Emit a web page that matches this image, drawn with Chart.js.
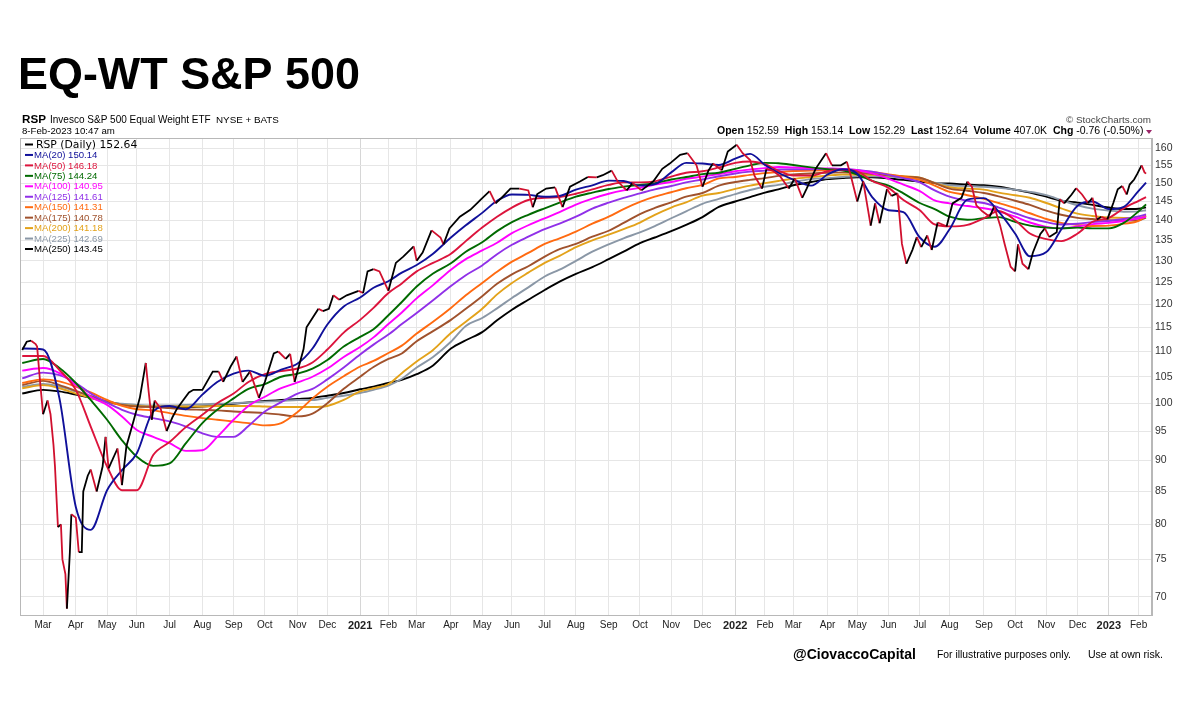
<!DOCTYPE html>
<html>
<head>
<meta charset="utf-8">
<title>EQ-WT S&amp;P 500</title>
<script src="https://cdn.jsdelivr.net/npm/chart.js@4.4.1/dist/chart.umd.min.js"></script>
<style>
  body { margin: 0; background: #fff; }
  canvas { display: block; }
</style>
</head>
<body>
<canvas id="myChart" width="1200" height="720"></canvas>
<script>
// x positions are trading-day counts from the first bar (10-Feb-2020)
const monthTicks = [14, 36, 57, 77, 99, 121, 142, 163, 185, 205,
  227, 246, 265, 288, 309, 329, 351, 372, 394, 415, 436, 457,
  479, 499, 518, 541, 561, 582, 603, 623, 646, 667, 688, 709,
  730, 750];
const monthLabels = ["Mar", "Apr", "May", "Jun", "Jul", "Aug", "Sep", "Oct", "Nov", "Dec",
  "2021", "Feb", "Mar", "Apr", "May", "Jun", "Jul", "Aug", "Sep", "Oct", "Nov", "Dec",
  "2022", "Feb", "Mar", "Apr", "May", "Jun", "Jul", "Aug", "Sep", "Oct", "Nov", "Dec",
  "2023", "Feb"];
const priceTicks = [70, 75, 80, 85, 90, 95, 100, 105, 110, 115, 120, 125, 130, 135, 140, 145, 150, 155, 160];

// RSP closes (sampled)
const priceDays = [
  0, 3, 6, 9, 10, 12, 14, 17, 19, 21,
  22, 24, 26, 27, 29, 30, 32, 33, 36, 38,
  40, 41, 44, 46, 50, 54, 56, 58, 64, 67,
  70, 75, 79, 83, 85, 87, 89, 93, 97, 101,
  104, 108, 112, 115, 121, 128, 132, 135, 140, 144,
  148, 153, 159, 163, 169, 172, 177, 180, 183, 189,
  191, 195, 199, 202, 206, 209, 213, 218, 226, 229,
  232, 236, 240, 246, 251, 256, 263, 265, 269, 275,
  281, 283, 287, 294, 301, 306, 308, 314, 318, 322,
  328, 334, 340, 343, 346, 352, 358, 363, 368, 375,
  380, 386, 390, 396, 400, 406, 410, 416, 424, 430,
  435, 442, 447, 453, 457, 461, 464, 470, 474, 480,
  484, 489, 492, 497, 500, 504, 509, 515, 519, 524,
  527, 533, 540, 544, 550, 554, 557, 561, 565, 570,
  573, 576, 581, 584, 588, 591, 594, 598, 601, 604,
  608, 611, 615, 621, 625, 631, 635, 638, 641, 645,
  650, 653, 657, 660, 664, 667, 669, 672, 676, 679,
  684, 687, 690, 695, 697, 700, 705, 708, 712, 716,
  719, 722, 725, 729, 733, 736, 739, 742, 744, 747,
  749, 752, 754, 755];
const priceVals = [
  110.3, 112.0, 112.2, 111.5, 111.0, 104.0, 98.0, 100.5, 98.0, 92.6,
  89.0, 79.6, 80.0, 75.0, 73.0, 68.5, 76.0, 81.5, 81.0, 76.0,
  76.0, 85.0, 87.5, 88.5, 85.0, 89.0, 94.0, 88.7, 92.0, 86.0,
  92.4, 97.0, 101.0, 107.7, 102.0, 97.0, 100.5, 99.0, 95.0, 97.5,
  99.0, 100.5, 102.0, 102.5, 102.5, 106.0, 106.0, 104.0, 107.0, 109.0,
  104.0, 106.0, 101.0, 104.0, 109.6, 110.0, 108.5, 109.5, 104.0, 110.5,
  115.0, 117.0, 119.0, 118.5, 119.0, 122.0, 121.0, 122.0, 123.0, 122.5,
  127.5, 128.0, 127.5, 123.0, 129.5, 131.0, 133.5, 130.0, 132.0, 137.5,
  135.7, 134.0, 138.0, 141.0, 142.8, 144.7, 145.5, 147.8, 144.5, 146.0,
  148.5, 148.5, 148.0, 143.5, 147.0, 148.5, 148.8, 143.5, 149.0, 150.5,
  151.7, 151.6, 152.2, 153.5, 150.5, 148.0, 150.0, 148.0, 150.5, 154.0,
  155.5, 158.0, 158.5, 155.0, 149.0, 153.5, 155.5, 153.6, 159.0, 161.0,
  158.5, 156.5, 152.0, 148.5, 154.0, 153.5, 152.0, 148.5, 151.3, 146.0,
  148.5, 154.0, 158.5, 155.0, 155.0, 156.0, 151.5, 145.0, 150.5, 138.7,
  144.5, 139.3, 148.4, 146.5, 147.2, 134.1, 129.3, 132.6, 135.8, 133.3,
  136.2, 132.6, 139.5, 138.5, 144.5, 146.0, 150.4, 149.0, 144.0, 142.4,
  141.0, 143.7, 138.7, 134.1, 128.6, 127.5, 134.0, 129.3, 128.0, 132.0,
  136.6, 138.0, 135.8, 137.0, 145.6, 144.5, 146.9, 148.6, 146.9, 144.6,
  146.0, 140.3, 141.0, 140.3, 144.6, 148.3, 149.2, 146.9, 149.6, 151.0,
  152.5, 155.0, 153.0, 152.64];

// moving averages, all read at the same days
const maDays = [
  0, 14, 25, 36, 46, 57, 67, 77, 88, 99,
  110, 121, 131, 142, 152, 163, 174, 185, 195, 205,
  216, 227, 236, 246, 255, 265, 276, 288, 298, 309,
  319, 329, 340, 351, 361, 372, 383, 394, 404, 415,
  425, 436, 446, 457, 468, 479, 489, 499, 508, 518,
  530, 541, 551, 561, 571, 582, 592, 603, 613, 623,
  635, 646, 656, 667, 677, 688, 698, 709, 719, 730,
  740, 750, 755];
const ma20 = [
  110.6, 110.4, 100.9, 82.6, 79.2, 85.2, 88.4, 91.2, 98.5, 99.5, 98.9, 101.6, 104.0, 105.6, 106.2,
  105.2, 106.4, 107.6, 110.6, 115.6, 119.5, 121.5, 123.7, 125.2, 127.2, 129.0, 131.7, 135.7, 138.8,
  142.0, 145.2, 146.9, 146.8, 146.3, 146.5, 148.2, 149.4, 150.7, 150.6, 149.3, 149.7, 153.0, 155.7, 155.5,
  155.1, 156.9, 158.3, 155.1, 152.9, 151.0, 149.3, 152.4, 153.9, 152.6, 146.2, 142.7, 142.2, 135.7,
  133.4, 137.8, 145.5, 145.9, 142.3, 136.7, 131.1, 132.1, 137.7, 143.9, 145.0, 143.0, 143.6, 147.9, 150.14];
const ma50 = [
  109.1, 109.1, 106.3, 102.5, 95.8, 89.0, 85.2, 85.2, 90.9, 93.1, 95.7, 97.9, 100.0, 101.8, 104.0,
  105.5, 106.1, 106.6, 107.8, 110.4, 113.9, 116.6, 119.2, 122.5, 124.7, 127.5, 129.5, 131.7, 134.8,
  138.2, 141.0, 143.4, 145.4, 146.0, 146.2, 147.1, 148.3, 149.5, 150.2, 150.2, 150.5, 151.8, 152.9, 153.3,
  154.4, 155.7, 156.1, 155.3, 153.5, 152.1, 152.1, 153.3, 153.7, 153.3, 150.6, 148.7, 145.4, 142.7,
  139.0, 138.5, 138.9, 140.6, 142.5, 140.1, 136.7, 135.3, 134.8, 136.7, 139.7, 140.7, 143.2, 145.2, 146.18];
const ma75 = [
  107.7, 108.5, 106.7, 103.8, 100.6, 97.0, 93.4, 90.6, 89.1, 89.5, 92.9, 96.4, 98.8, 100.9, 102.7,
  103.6, 105.0, 105.6, 106.6, 108.3, 111.0, 113.0, 114.6, 117.6, 120.5, 124.0, 127.0, 129.4, 132.2,
  134.5, 137.3, 139.6, 141.5, 143.2, 144.7, 146.3, 147.4, 148.4, 149.0, 149.5, 150.0, 151.0, 151.7, 152.5,
  152.9, 154.0, 155.0, 155.7, 155.6, 155.1, 154.4, 153.9, 153.6, 152.4, 150.6, 149.3, 147.2, 144.6,
  143.0, 141.0, 140.2, 140.6, 140.9, 139.7, 138.7, 138.2, 138.0, 138.2, 138.0, 138.0, 139.4, 142.4, 144.24];
const ma100 = [
  106.2, 106.7, 105.7, 103.4, 101.2, 99.7, 97.6, 95.2, 94.0, 92.9, 91.6, 91.7, 94.0, 97.0, 99.5,
  101.2, 102.8, 103.9, 105.0, 106.6, 108.9, 110.9, 112.9, 115.7, 118.2, 121.3, 124.3, 127.9, 130.4,
  132.5, 134.4, 136.8, 138.8, 140.6, 142.2, 144.2, 145.8, 147.1, 148.0, 148.7, 149.6, 150.3, 151.2, 151.8,
  152.5, 153.3, 153.8, 154.2, 154.5, 154.4, 154.2, 154.1, 154.0, 153.6, 152.7, 151.2, 149.6, 147.8,
  145.3, 144.5, 143.8, 143.2, 142.4, 141.0, 139.5, 138.4, 138.0, 138.5, 139.1, 139.4, 139.9, 140.6, 140.95];
const ma125 = [
  104.7, 105.8, 105.3, 103.8, 101.8, 100.1, 98.8, 97.9, 97.3, 96.7, 95.8, 94.6, 94.0, 94.0, 95.9,
  98.5, 100.2, 101.8, 102.7, 104.5, 106.8, 109.4, 111.4, 113.5, 115.7, 118.1, 120.9, 124.1, 126.6,
  128.9, 131.6, 133.9, 135.9, 137.8, 139.2, 141.0, 143.1, 144.7, 146.0, 147.2, 148.3, 149.2, 150.2, 151.0,
  151.9, 152.7, 153.2, 153.5, 153.8, 153.9, 153.9, 154.0, 154.0, 153.7, 153.2, 152.3, 151.4, 150.2,
  148.0, 146.3, 145.2, 144.6, 143.4, 141.9, 140.6, 139.6, 139.0, 139.2, 139.6, 139.9, 140.4, 141.1, 141.61];
const ma150 = [
  103.8, 104.5, 104.1, 103.1, 102.0, 100.6, 99.5, 98.9, 98.7, 98.2, 97.7, 97.3, 97.0, 96.7, 96.4,
  96.0, 96.4, 98.4, 100.9, 103.1, 105.1, 107.0, 108.1, 109.7, 111.2, 113.7, 116.2, 119.2, 122.0,
  124.8, 127.4, 129.8, 131.9, 134.1, 135.5, 137.2, 139.2, 141.0, 143.0, 144.9, 146.3, 147.5, 148.6, 149.5,
  151.3, 151.7, 152.3, 152.8, 153.1, 153.4, 153.5, 153.6, 153.7, 153.5, 153.1, 152.4, 151.8, 150.9,
  149.3, 147.6, 146.7, 145.7, 144.6, 143.3, 141.9, 140.4, 139.4, 138.9, 138.6, 138.7, 139.2, 139.9, 141.31];
const ma175 = [
  103.4, 104.2, 103.4, 102.3, 101.3, 100.3, 99.7, 99.4, 99.3, 99.1, 98.9, 98.8, 98.7, 98.5, 98.35,
  98.2, 97.9, 97.6, 98.1, 100.0, 102.7, 105.0, 106.9, 108.5, 109.6, 112.1, 114.2, 116.6, 119.0,
  121.8, 124.6, 126.8, 128.7, 131.0, 132.8, 134.1, 135.9, 137.4, 139.4, 141.7, 143.3, 144.8, 146.3, 147.3,
  149.3, 150.3, 150.9, 151.4, 152.0, 152.4, 152.7, 152.9, 153.0, 152.9, 152.6, 152.2, 151.8, 151.5,
  150.0, 148.5, 147.9, 147.3, 146.4, 145.2, 144.1, 142.6, 141.5, 140.7, 140.4, 140.1, 140.0, 140.1, 140.78];
const ma200 = [
  102.8, 103.4, 102.8, 101.8, 101.0, 100.1, 99.7, 99.5, 99.4, 99.4, 99.4, 99.4, 99.5, 99.5, 99.5,
  99.4, 99.3, 99.3, 99.3, 99.5, 100.6, 102.2, 102.8, 103.6, 105.7, 108.0, 110.3, 113.8, 116.2,
  119.0, 122.2, 124.8, 127.2, 129.5, 131.2, 133.3, 135.0, 136.4, 137.8, 139.5, 141.5, 143.4, 144.8, 146.6,
  147.3, 148.4, 149.3, 150.0, 150.6, 151.2, 151.7, 152.1, 152.4, 152.4, 152.3, 152.1, 151.9, 151.5,
  150.0, 148.9, 148.5, 148.2, 147.4, 146.7, 146.0, 144.6, 143.2, 141.8, 141.2, 140.8, 140.7, 140.7, 141.18];
const ma225 = [
  103.1, 103.6, 103.1, 102.2, 101.3, 100.3, 99.9, 99.7, 99.6, 99.6, 99.7, 99.8, 99.9, 100.0, 100.15,
  100.3, 100.4, 100.6, 100.6, 101.0, 101.4, 101.9, 102.5, 103.3, 104.6, 106.8, 108.9, 112.0, 115.3,
  117.0, 119.1, 121.4, 123.8, 126.3, 127.9, 130.0, 132.2, 134.0, 135.5, 137.0, 138.6, 140.6, 142.4, 144.4,
  145.7, 147.0, 148.1, 149.0, 149.5, 150.3, 151.1, 151.4, 151.7, 151.9, 151.9, 151.8, 151.5, 151.2,
  150.1, 149.4, 149.2, 149.0, 148.7, 148.2, 147.6, 146.7, 145.4, 144.0, 143.1, 142.6, 142.3, 142.4, 142.69];
const ma250 = [
  101.8, 102.5, 102.2, 101.6, 101.0, 100.3, 99.8, 99.5, 99.4, 99.3, 99.3, 99.4, 99.6, 99.9, 100.15,
  100.4, 100.6, 100.8, 101.0, 101.4, 101.9, 102.6, 103.1, 103.8, 104.4, 105.5, 107.2, 110.6, 112.3,
  114.0, 116.5, 118.8, 121.0, 123.2, 125.1, 126.9, 128.5, 130.4, 132.2, 134.3, 135.7, 137.3, 138.9, 140.9,
  143.6, 145.0, 146.2, 147.4, 148.3, 149.4, 150.3, 151.1, 151.4, 151.6, 151.6, 151.3, 150.9, 150.4,
  150.0, 149.9, 149.6, 149.4, 149.0, 148.2, 147.4, 146.3, 145.2, 144.7, 144.1, 143.4, 143.0, 143.1, 143.45];

const maNames = ["MA(20) 150.14", "MA(50) 146.18", "MA(75) 144.24", "MA(100) 140.95", "MA(125) 141.61",
  "MA(150) 141.31", "MA(175) 140.78", "MA(200) 141.18", "MA(225) 142.69", "MA(250) 143.45"];
const maSeries = [ma20, ma50, ma75, ma100, ma125, ma150, ma175, ma200, ma225, ma250];
const maColors = ["#10109a", "#dc143c", "#006a00", "#ff00ff", "#9030e8", "#ff6a10", "#a0522d", "#e3a21a", "#8a97a6", "#000000"];

const upColor = "#000000";
const downColor = "#d0102e";
const FONT = '"Liberation Sans", Arial, sans-serif';

const toPoints = (days, vals) => days.map((d, i) => ({ x: d, y: vals[i] }));

// draw text to a given width
function fitText(c, text, x, y, width, weight, baseSize, align) {
  c.font = weight + " " + baseSize + "px " + FONT;
  const size = baseSize * width / c.measureText(text).width;
  c.font = weight + " " + size.toFixed(2) + "px " + FONT;
  c.textAlign = align || "left";
  c.fillText(text, x, y);
}

const decorations = {
  id: "decorations",
  afterDraw(chart) {
    const c = chart.ctx;
    const a = chart.chartArea;
    c.save();
    c.strokeStyle = "#b8b8b8";
    c.lineWidth = 1;
    c.strokeRect(a.left + 0.5, a.top + 0.5, a.right - a.left - 1, a.bottom - a.top);

    c.textBaseline = "alphabetic";
    c.fillStyle = "#000";
    fitText(c, "EQ-WT S&P 500", 18, 89, 342, "bold", 44);

    // header
    fitText(c, "RSP", 22, 123, 24, "bold", 12);
    fitText(c, "Invesco S&P 500 Equal Weight ETF", 50, 123, 161, "normal", 10);
    fitText(c, "NYSE + BATS", 216, 123, 63, "normal", 9);
    fitText(c, "8-Feb-2023 10:47 am", 22, 134, 93, "normal", 10);
    c.fillStyle = "#444";
    fitText(c, "\u00A9 StockCharts.com", 1151, 123, 85, "normal", 10, "right");

    // quote line, right aligned
    const parts = [["Open ", "bold"], ["152.59  ", "normal"], ["High ", "bold"], ["153.14  ", "normal"],
      ["Low ", "bold"], ["152.29  ", "normal"], ["Last ", "bold"], ["152.64  ", "normal"],
      ["Volume ", "bold"], ["407.0K  ", "normal"], ["Chg ", "bold"], ["-0.76 (-0.50%)", "normal"]];
    let total = 0;
    parts.forEach((p) => { c.font = p[1] + " 10px " + FONT; total += c.measureText(p[0]).width; });
    const k = 427 / total;
    let qx = 717;
    c.fillStyle = "#000";
    c.textAlign = "left";
    parts.forEach((p) => {
      c.font = p[1] + " " + (10 * k).toFixed(2) + "px " + FONT;
      c.fillText(p[0], qx, 134);
      qx += c.measureText(p[0]).width;
    });
    c.fillStyle = "#9a2467";
    c.beginPath();
    c.moveTo(1146, 130); c.lineTo(1152, 130); c.lineTo(1149, 134); c.closePath();
    c.fill();

    // legend
    c.textBaseline = "middle";
    c.lineWidth = 2;
    const rowY = (i) => 144.5 + i * 10.45;
    c.strokeStyle = "#000";
    c.beginPath(); c.moveTo(25, rowY(0)); c.lineTo(33, rowY(0)); c.stroke();
    c.fillStyle = "#000";
    c.font = '10.8px "DejaVu Sans", Verdana, sans-serif';
    c.fillText("RSP (Daily) 152.64", 36, rowY(0) + 0.5);
    maNames.forEach((name, i) => {
      const y = rowY(i + 1);
      c.strokeStyle = maColors[i];
      c.beginPath(); c.moveTo(25, y); c.lineTo(33, y); c.stroke();
      c.fillStyle = maColors[i];
      c.font = "9.6px " + FONT;
      c.fillText(name, 34, y + 0.5);
    });

    // footer
    c.textBaseline = "alphabetic";
    c.fillStyle = "#000";
    fitText(c, "@CiovaccoCapital", 793, 659, 123, "bold", 13);
    fitText(c, "For illustrative purposes only.", 937, 658, 134, "normal", 10);
    fitText(c, "Use at own risk.", 1088, 658, 75, "normal", 10);
    c.restore();
  }
};

const datasets = [{
  label: "RSP",
  data: toPoints(priceDays, priceVals),
  borderColor: upColor,
  borderWidth: 1.8,
  pointRadius: 0,
  order: 0,
  segment: {
    borderColor: (ctx) => (ctx.p1.parsed.y < ctx.p0.parsed.y ? downColor : upColor),
  },
}];
maSeries.forEach((vals, i) => {
  datasets.push({
    label: maNames[i],
    data: toPoints(maDays, vals),
    borderColor: maColors[i],
    borderWidth: 1.9,
    pointRadius: 0,
    cubicInterpolationMode: "monotone",
    order: i + 1,
  });
});

const yearTicks = monthTicks.filter((v, i) => /^\d{4}$/.test(monthLabels[i]));

new Chart(document.getElementById("myChart"), {
  type: "line",
  data: { datasets: datasets },
  options: {
    responsive: false,
    animation: false,
    layout: { padding: { left: 20, top: 138, right: 0, bottom: 0 } },
    plugins: { legend: { display: false }, tooltip: { enabled: false } },
    scales: {
      x: {
        type: "linear",
        min: -1.5,
        max: 759,
        afterBuildTicks: (scale) => { scale.ticks = monthTicks.map((v) => ({ value: v })); },
        afterFit: (scale) => { scale.height = 105; },
        ticks: {
          autoSkip: false,
          maxRotation: 0,
          padding: 4,
          color: "#222",
          callback: (value, index) => monthLabels[index],
          font: (ctx) => ({
            family: FONT,
            size: ctx.tick && yearTicks.includes(ctx.tick.value) ? 11 : 10,
            weight: ctx.tick && yearTicks.includes(ctx.tick.value) ? "bold" : "normal",
          }),
        },
        grid: {
          drawTicks: false,
          color: (ctx) => (ctx.tick && yearTicks.includes(ctx.tick.value) ? "#d6d6d6" : "#e6e6e6"),
        },
        border: { color: "#b8b8b8" },
      },
      y: {
        type: "logarithmic",
        position: "right",
        min: 67.7,
        max: 163,
        afterBuildTicks: (scale) => { scale.ticks = priceTicks.map((v) => ({ value: v })); },
        afterFit: (scale) => { scale.width = 48; },
        ticks: {
          padding: 3,
          color: "#333",
          font: { family: FONT, size: 10.5 },
          callback: (value) => String(value),
        },
        grid: { drawTicks: false, color: "#e6e6e6" },
        border: { color: "#b8b8b8" },
      },
    },
  },
  plugins: [decorations],
});
</script>
</body>
</html>
